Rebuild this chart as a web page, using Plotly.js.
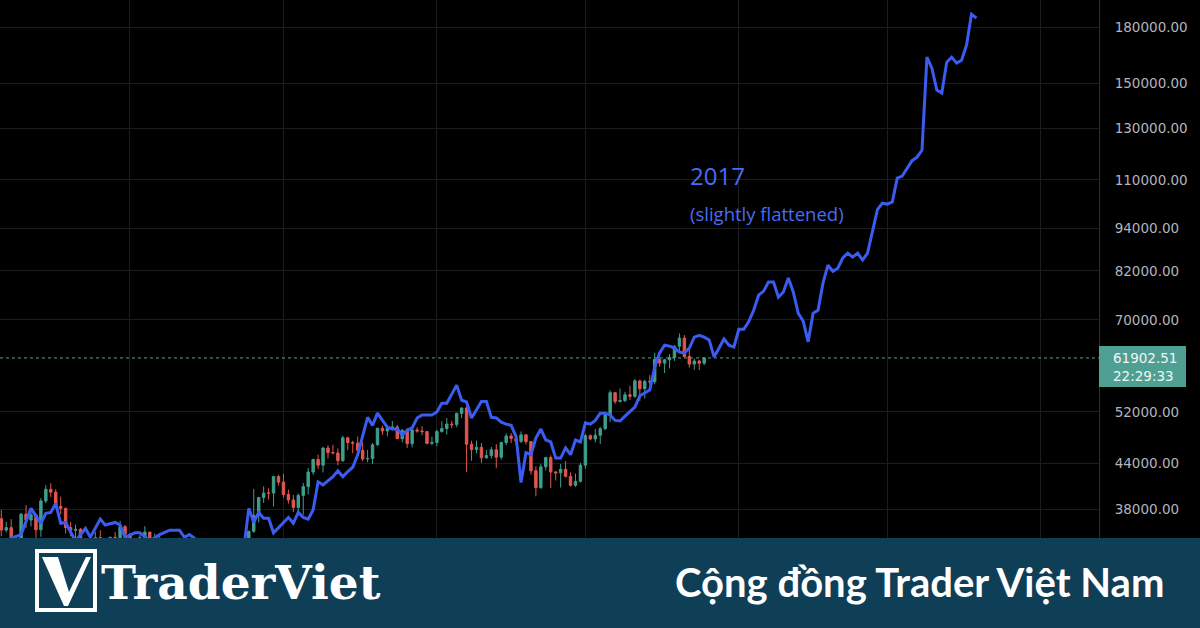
<!DOCTYPE html>
<html><head><meta charset="utf-8">
<script src="https://cdn.plot.ly/plotly-3.0.1.min.js"></script>
<style>html,body{margin:0;padding:0;background:#000;}#chart{width:1200px;height:628px;}</style>
</head><body><div id="chart"></div>
<script>
// ---------- DATA ----------
const candleDates = [
 '2021-06-04','2021-06-05','2021-06-06','2021-06-07','2021-06-08','2021-06-09','2021-06-10','2021-06-11','2021-06-12','2021-06-13','2021-06-14','2021-06-15','2021-06-16','2021-06-17','2021-06-18','2021-06-19','2021-06-20','2021-06-21','2021-06-22','2021-06-23','2021-06-24','2021-06-25','2021-06-26','2021-06-27','2021-06-28','2021-06-29','2021-06-30',
 '2021-07-01','2021-07-02','2021-07-03','2021-07-04','2021-07-05','2021-07-06','2021-07-07','2021-07-08','2021-07-09','2021-07-10','2021-07-11','2021-07-12','2021-07-13','2021-07-14','2021-07-15','2021-07-16','2021-07-17','2021-07-18','2021-07-19','2021-07-20','2021-07-21','2021-07-22','2021-07-23','2021-07-24','2021-07-25','2021-07-26','2021-07-27','2021-07-28','2021-07-29','2021-07-30','2021-07-31',
 '2021-08-01','2021-08-02','2021-08-03','2021-08-04','2021-08-05','2021-08-06','2021-08-07','2021-08-08','2021-08-09','2021-08-10','2021-08-11','2021-08-12','2021-08-13','2021-08-14','2021-08-15','2021-08-16','2021-08-17','2021-08-18','2021-08-19','2021-08-20','2021-08-21','2021-08-22','2021-08-23','2021-08-24','2021-08-25','2021-08-26','2021-08-27','2021-08-28','2021-08-29','2021-08-30','2021-08-31',
 '2021-09-01','2021-09-02','2021-09-03','2021-09-04','2021-09-05','2021-09-06','2021-09-07','2021-09-08','2021-09-09','2021-09-10','2021-09-11','2021-09-12','2021-09-13','2021-09-14','2021-09-15','2021-09-16','2021-09-17','2021-09-18','2021-09-19','2021-09-20','2021-09-21','2021-09-22','2021-09-23','2021-09-24','2021-09-25','2021-09-26','2021-09-27','2021-09-28','2021-09-29','2021-09-30',
 '2021-10-01','2021-10-02','2021-10-03','2021-10-04','2021-10-05','2021-10-06','2021-10-07','2021-10-08','2021-10-09','2021-10-10','2021-10-11','2021-10-12','2021-10-13','2021-10-14','2021-10-15','2021-10-16','2021-10-17','2021-10-18','2021-10-19','2021-10-20','2021-10-21','2021-10-22','2021-10-23','2021-10-24','2021-10-25'
];
const openPrices = [
 39242,36851,35520,35797,33552,33380,37389,36694,37313,35546,39020,40516,40144,38349,38092,35820,35483,35600,31614,32509,33676,34663,31577,32283,34702,34494,35911,
 35045,33502,33786,34668,35288,33690,34221,33863,32875,33816,33503,34259,33086,32729,32820,31874,31384,31520,31778,30839,29790,32144,32287,33634,34261,35381,37237,39457,40019,40018,42206,
 41462,39850,39146,38208,39724,40862,42836,44614,43794,46280,45596,45555,44429,47836,47099,47019,45938,44686,44741,46763,49339,48905,49321,49545,47706,48960,46942,49058,48903,48807,46991,
 47110,48811,49287,49998,49917,51757,52667,46864,46049,46395,44843,45174,46026,44940,47103,48121,47737,47299,48292,47242,43016,40734,43560,44894,42840,42721,43208,42236,41034,41565,
 43791,48165,47657,48233,49244,51494,55339,53802,53956,54963,54691,57485,56041,57401,57321,61593,60876,61529,62006,64280,66002,62193,60688,61286,60852
];
const highPrices = [
 39289,37917,36480,36790,34069,37534,38491,37680,37448,39380,41064,41330,40527,39560,38202,36457,36137,35750,33298,34881,35298,35500,32700,34749,35297,36600,36100,
 35060,33977,34945,35967,35293,35118,35059,33929,34100,34262,34666,34679,33340,33114,33185,32249,31948,32435,31899,31063,32858,32591,33650,34500,35398,40550,39542,40900,40640,42316,42448,
 42599,40459,39780,39969,41350,43392,44700,45310,46454,46700,46743,46218,48144,48000,47372,48053,47160,46000,47033,49382,49757,49500,50500,49875,49227,49368,49300,49486,49658,48919,48000,
 49125,50450,51000,50558,51900,52780,52920,47399,47400,47033,45980,46460,46877,47250,48500,48557,48150,48843,48372,47345,43639,44000,44978,45200,42970,43950,44350,42788,42619,44141,
 48495,48359,49229,49530,51887,55750,55400,56100,55490,56561,57839,57680,57684,58550,62933,62000,61720,62695,64486,67000,66639,63733,61747,61500,62050
];
const lowPrices = [
 35555,34800,35258,33300,31000,32396,35782,35937,34600,34757,38731,39506,38116,37365,35129,34803,33336,31251,28805,31683,32286,31275,30152,32000,33862,34225,34017,
 32711,32699,33316,34357,33125,33532,33777,32077,32261,33005,33306,32658,32202,31550,31133,31020,31179,31108,30407,29278,29482,31708,31924,33401,33851,35205,36383,38772,39200,38313,41000,
 39422,38690,37642,37508,37332,39853,42446,43261,42779,44742,45341,43770,44252,45971,45500,45660,44376,44203,43955,46629,48285,48050,49029,47600,47137,46300,46371,48620,48250,46850,46700,
 46535,48640,48356,49360,49500,50969,42843,44412,45514,44132,44722,44742,43370,44594,46682,47021,46699,47033,46829,42500,39600,40565,43069,40675,41675,40750,42098,40888,40829,41410,
 43283,47451,47120,46891,49057,50382,53357,53617,53661,54080,54415,53879,54300,56818,56850,60150,58963,59844,61322,63481,62000,60000,59562,59510,60500
];
const closePrices = [
 36851,35520,35797,33552,33380,37389,36693,37313,35546,39020,40516,40144,38349,38092,35820,35483,35600,31608,32509,33678,34663,31584,32283,34700,34494,35911,35045,
 33504,33787,34668,35287,33690,34220,33863,32875,33815,33502,34259,33086,32729,32820,31880,31383,31520,31778,30839,29790,32144,32287,33634,34258,35381,37237,39457,40019,40016,42206,41461,
 39845,39147,38207,39723,40862,42836,44614,43792,46285,45595,45554,44428,47833,47096,47019,45936,44686,44742,46763,49339,48905,49321,49546,47706,48960,46942,49058,48902,48806,46991,47111,
 48814,49287,49997,49914,51756,52663,46863,46049,46396,44851,45173,46026,44940,47111,48121,47737,47299,48292,47241,42999,40734,43563,44895,42839,42717,43208,42236,41034,41564,43790,
 48165,47657,48233,49245,51493,55339,53798,53963,54963,54691,57484,56041,57401,57321,61593,60875,61528,62010,64280,66001,62193,60688,61286,60852,61902.51
];

// 2017 fractal overlay (slightly flattened)
const fractalDates = [
 '2021-06-05','2021-06-07','2021-06-09','2021-06-11','2021-06-13','2021-06-14','2021-06-15','2021-06-16','2021-06-17','2021-06-18','2021-06-19','2021-06-20','2021-06-22','2021-06-23','2021-06-25','2021-06-26','2021-06-28','2021-06-29','2021-06-30',
 '2021-07-02','2021-07-03','2021-07-04','2021-07-05','2021-07-07','2021-07-09','2021-07-11','2021-07-12','2021-07-13','2021-07-14','2021-07-16','2021-07-18','2021-07-20','2021-07-22','2021-07-24','2021-07-25','2021-07-26','2021-07-27','2021-07-28','2021-07-29','2021-07-30',
 '2021-08-02','2021-08-03','2021-08-04','2021-08-05','2021-08-06','2021-08-07','2021-08-08','2021-08-09','2021-08-11','2021-08-12','2021-08-13','2021-08-14','2021-08-15','2021-08-16','2021-08-17','2021-08-18','2021-08-19','2021-08-20','2021-08-21','2021-08-22','2021-08-23','2021-08-24','2021-08-25','2021-08-26','2021-08-27','2021-08-28','2021-08-29','2021-08-30','2021-08-31',
 '2021-09-01','2021-09-02','2021-09-03','2021-09-04','2021-09-05','2021-09-06','2021-09-07','2021-09-08','2021-09-09','2021-09-10','2021-09-11','2021-09-12','2021-09-13','2021-09-14','2021-09-15','2021-09-16','2021-09-17','2021-09-18','2021-09-19','2021-09-20','2021-09-21','2021-09-22','2021-09-23','2021-09-24','2021-09-25','2021-09-26','2021-09-27','2021-09-28','2021-09-29','2021-09-30',
 '2021-10-01','2021-10-02','2021-10-03','2021-10-04','2021-10-05','2021-10-06','2021-10-07','2021-10-08','2021-10-09','2021-10-10','2021-10-11','2021-10-12','2021-10-13','2021-10-14','2021-10-15','2021-10-16','2021-10-17','2021-10-18','2021-10-19','2021-10-20','2021-10-21','2021-10-22','2021-10-23','2021-10-24','2021-10-25','2021-10-26','2021-10-27','2021-10-28','2021-10-29','2021-10-30','2021-10-31',
 '2021-11-01','2021-11-02','2021-11-03','2021-11-04','2021-11-05','2021-11-06','2021-11-07','2021-11-08','2021-11-09','2021-11-10','2021-11-11','2021-11-12','2021-11-13','2021-11-14','2021-11-15','2021-11-16','2021-11-17','2021-11-18','2021-11-19','2021-11-20','2021-11-21','2021-11-22','2021-11-23','2021-11-24','2021-11-25','2021-11-26','2021-11-27','2021-11-28','2021-11-29','2021-11-30',
 '2021-12-01','2021-12-02','2021-12-03','2021-12-04','2021-12-05','2021-12-06','2021-12-07','2021-12-08','2021-12-09','2021-12-10','2021-12-11','2021-12-12','2021-12-13','2021-12-14','2021-12-15','2021-12-16','2021-12-17','2021-12-18','2021-12-19'
];
const fractalValues = [
 33800,34600,35000,38100,36300,37500,37600,38700,36300,36400,35300,34300,35700,34700,36800,36100,36400,36100,34700,
 35200,35200,34700,34300,35000,35500,35500,34700,35000,34600,33500,32500,31800,32000,33500,38100,36400,37600,36900,36900,35200,
 37000,36300,37600,37000,36800,37900,41500,41100,42200,43000,42200,42900,43500,45300,48000,51100,49800,51800,50600,49500,49200,49200,48300,49000,49400,51000,51500,51500,51500,
 52000,53500,53500,55100,56700,54000,53700,51000,52300,53800,53800,51100,51000,50300,50000,49800,48000,41400,45600,45300,47800,49200,47500,47200,44800,44800,46300,45300,47500,47200,
 50200,50000,50600,51800,51800,51500,50600,50500,51300,52000,52800,54800,55300,55800,60100,62900,64500,64300,63900,63100,62900,63900,66200,66600,66200,65600,62100,63900,65800,64500,64100,
 67900,67900,69600,72200,75800,76800,79100,79100,75300,76600,80100,76600,71500,69700,65200,71500,72200,78800,83500,81900,82700,85500,86800,85700,86800,84900,86800,92900,99900,102000,
 101700,102400,110600,111300,114300,117000,118300,121000,163400,157700,146900,145500,160800,163400,160300,161800,169900,187700,185300
];

const lastPrice = 61902.51;
const lastPriceLabel = '61902.51';
const countdownLabel = '22:29:33';
const tickValues = [38000,44000,52000,70000,82000,94000,110000,130000,150000,180000];
const tickLabels = ['38000.00','44000.00','52000.00','70000.00','82000.00','94000.00','110000.00','130000.00','150000.00','180000.00'];
const monthStarts = ['2021-07-01','2021-08-01','2021-09-01','2021-10-01','2021-11-01','2021-12-01','2022-01-01'];
const xStart = '2021-06-04 17:45', xEnd = '2022-01-12 18:15';

// ---------- LAYOUT HELPERS (pixel -> paper) ----------
const PW = 1099, PH = 538;
const px = v => v / PW;
const py = v => 1 - v / PH;

const traces = [
  {
    type: 'candlestick', x: candleDates, open: openPrices, high: highPrices, low: lowPrices, close: closePrices,
    increasing: {line: {color: '#3f9e8c', width: 1}, fillcolor: '#3f9e8c'},
    decreasing: {line: {color: '#e0574f', width: 1}, fillcolor: '#e0574f'},
    whiskerwidth: 0, hoverinfo: 'skip', showlegend: false
  },
  {
    type: 'scatter', mode: 'lines', x: [xStart, xEnd], y: [lastPrice, lastPrice],
    line: {color: '#47a595', width: 1, dash: 'dot'}, hoverinfo: 'skip', showlegend: false
  },
  {
    type: 'scatter', mode: 'lines', x: fractalDates, y: fractalValues,
    line: {color: '#3b5cf0', width: 3, shape: 'linear'}, hoverinfo: 'skip', showlegend: false
  }
];

const shapes = [
  // bottom banner
  {type: 'rect', xref: 'paper', yref: 'paper', x0: px(0), x1: px(1200), y0: py(628), y1: py(538),
   fillcolor: '#0f3e57', line: {width: 0}, layer: 'above'},
  // logo square
  {type: 'rect', xref: 'paper', yref: 'paper', x0: px(37), x1: px(95), y0: py(610), y1: py(551),
   line: {color: '#ffffff', width: 4}, fillcolor: 'rgba(0,0,0,0)', layer: 'above'},
  // logo V
  {type: 'path', xref: 'paper', yref: 'paper', layer: 'above', fillcolor: '#ffffff', line: {width: 0},
   path: `M ${px(42)} ${py(557)} L ${px(58)} ${py(557)} L ${px(69)} ${py(592)} L ${px(86)} ${py(557)} L ${px(91)} ${py(557)} L ${px(68)} ${py(606)} L ${px(64)} ${py(606)} Z`},
  // last price label box
  {type: 'rect', xref: 'paper', yref: 'paper', x0: px(1099), x1: px(1186), y0: py(387), y1: py(346),
   fillcolor: '#4f9f92', line: {width: 0}, layer: 'above'}
];

const annotations = [
  {xref: 'paper', yref: 'paper', x: px(688), y: py(176), xanchor: 'left', yanchor: 'middle', showarrow: false,
   text: '2017', font: {family: 'Open Sans', size: 24, color: '#4a6bf2'}},
  {xref: 'paper', yref: 'paper', x: px(688), y: py(213), xanchor: 'left', yanchor: 'middle', showarrow: false,
   text: '(slightly flattened)', font: {family: 'Open Sans', size: 18.5, color: '#4a6bf2'}},
  {xref: 'paper', yref: 'paper', x: px(1111), y: py(367), xanchor: 'left', yanchor: 'middle', showarrow: false, align: 'left',
   text: lastPriceLabel + '<br>' + countdownLabel, font: {family: 'DejaVu Sans', size: 13.5, color: '#eef7f5'}},
  {xref: 'paper', yref: 'paper', x: px(99), y: py(582), xanchor: 'left', yanchor: 'middle', showarrow: false,
   text: '<b>TraderViet</b>', font: {family: 'DejaVu Serif', size: 47, color: '#ffffff'}},
  {xref: 'paper', yref: 'paper', x: px(1166), y: py(582), xanchor: 'right', yanchor: 'middle', showarrow: false,
   text: '<b>Cộng đồng Trader Việt Nam</b>', font: {family: 'Lato', size: 40, color: '#ffffff'}}
];

const layout = {
  width: 1200, height: 628,
  margin: {l: 0, r: 101, t: 0, b: 90, pad: 0},
  paper_bgcolor: '#000000', plot_bgcolor: '#000000',
  font: {family: 'DejaVu Sans', color: '#b2b5be'},
  showlegend: false,
  xaxis: {
    type: 'date', range: [xStart, xEnd], rangeslider: {visible: false},
    tickmode: 'array', tickvals: monthStarts, showticklabels: false, ticks: '',
    showgrid: true, gridcolor: '#1c1c1c', gridwidth: 1, zeroline: false, showline: false, fixedrange: true
  },
  yaxis: {
    type: 'log', side: 'right', range: [Math.log10(34620), Math.log10(196500)],
    tickmode: 'array', tickvals: tickValues, ticktext: tickLabels, ticks: '',
    ticklabelstandoff: 12,
    tickfont: {family: 'DejaVu Sans', size: 13.5, color: '#b2b5be'},
    showgrid: true, gridcolor: '#1c1c1c', gridwidth: 1, zeroline: false,
    showline: true, linecolor: '#2e2e2e', linewidth: 1, fixedrange: true
  },
  shapes: shapes,
  annotations: annotations
};

Plotly.newPlot('chart', traces, layout, {staticPlot: true, displayModeBar: false});
</script>
</body></html>
